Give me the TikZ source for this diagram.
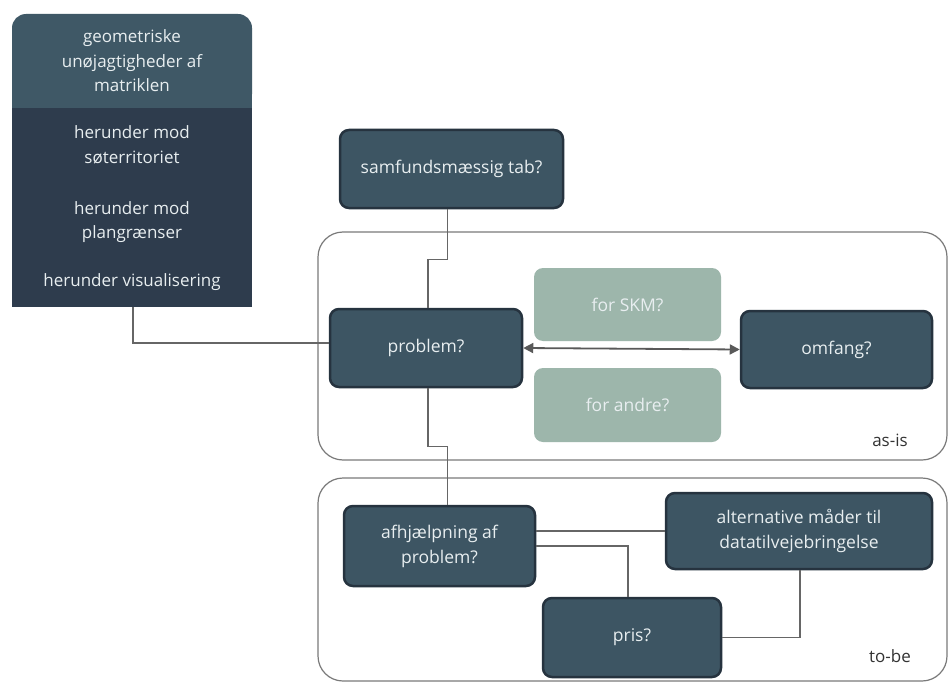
\documentclass[tikz,border=0pt]{standalone}
\usepackage{fontspec}
\setmainfont{Open Sans}
\usetikzlibrary{arrows.meta,calc}
\definecolor{boxfill}{HTML}{3D5563}
\definecolor{boxborder}{HTML}{26333F}
\definecolor{geotop}{HTML}{3F5866}
\definecolor{geodark}{HTML}{2E3C4D}
\definecolor{sage}{HTML}{9DB6AB}
\definecolor{boxtext}{HTML}{E8EEF0}
\definecolor{connc}{HTML}{666666}
\definecolor{framec}{HTML}{7A7A7A}
\begin{document}
\begin{tikzpicture}[x=1pt,y=-1pt,
  box/.style={draw=boxborder,fill=boxfill,line width=2.5pt,rounded corners=9pt,
    text=boxtext,align=center,font=\fontsize{17.5}{25}\selectfont,inner sep=0pt},
  sagebox/.style={fill=sage,rounded corners=9pt,text=boxtext,align=center,
    font=\fontsize{17.5}{25}\selectfont,inner sep=0pt},
  conn/.style={draw=connc,line width=1.2pt},
  frame/.style={draw=framec,line width=1.2pt,rounded corners=25pt},
  lbl/.style={text=boxtext,align=center,font=\fontsize{17}{24.5}\selectfont,inner sep=0pt},
  tag/.style={text=black!80,font=\fontsize{17}{20}\selectfont,inner sep=0pt}]
\useasboundingbox (0,0) rectangle (950,682);
\fill[white] (0,0) rectangle (950,682);
% containers
\draw[frame] (318,232) rectangle (947,460);
\draw[frame] (318,478) rectangle (947,681);
\node[tag] (asis) at (890,440) {as-is};
\node[tag] (tobe) at (890,656) {to-be};
% left stacked box
\fill[geotop,rounded corners=14pt] (12,108) -- (12,14) -- (252,14) -- (252,108) -- cycle;
\fill[geotop] (12,60) rectangle (252,108);
\node[minimum width=240pt,minimum height=199pt,fill=geodark,inner sep=0pt] (geodark) at (132,207.5) {};
\node[lbl] (geo) at (132,61) {geometriske\\unøjagtigheder af\\matriklen};
\node[lbl] (h1) at (132,145) {herunder mod\\søterritoriet};
\node[lbl] (h2) at (132,222) {herunder mod\\plangrænser};
\node[lbl] (h3) at (132,282) {herunder visualisering};
% boxes
\node[box,minimum width=223pt,minimum height=78pt] (samf) at (451.5,169) {samfundsmæssig tab?};
\node[box,minimum width=192pt,minimum height=78pt] (problem) at (426,348) {problem?};
\node[sagebox,minimum width=187pt,minimum height=73pt] (skm) at (627.5,304.5) {for SKM?};
\node[sagebox,minimum width=187pt,minimum height=74pt] (andre) at (627.5,405) {for andre?};
\node[box,minimum width=191pt,minimum height=77pt] (omfang) at (836.5,349.5) {omfang?};
\node[box,minimum width=191pt,minimum height=80pt] (afhj) at (439.5,546) {afhjælpning af\\problem?};
\node[box,minimum width=266pt,minimum height=76pt] (alt) at (799,531) {alternative måder til\\datatilvejebringelse};
\node[box,minimum width=178pt,minimum height=79pt] (pris) at (632,637.5) {pris?};
% connectors
\draw[conn] ([xshift=1pt]geodark.south) |- ([yshift=5pt]problem.west);
\draw[conn] ([xshift=-4pt]samf.south) -- ++(0,50) -| ([xshift=2pt]problem.north);
\draw[conn] ([xshift=2pt]problem.south) -- ++(0,58) -| ([xshift=8pt]afhj.north);
\draw[conn] (alt.west) -- (alt.west -| afhj.east);
\draw[conn] (afhj.east) -| ([xshift=-4pt]pris.north);
\draw[conn] ([xshift=1pt]alt.south) |- (pris.east);
\draw[draw=black!65,line width=1.8pt,{Triangle[length=10pt,width=10pt]}-{Triangle[length=10pt,width=10pt]}] (problem.east) -- (omfang.west);
\end{tikzpicture}
\end{document}
